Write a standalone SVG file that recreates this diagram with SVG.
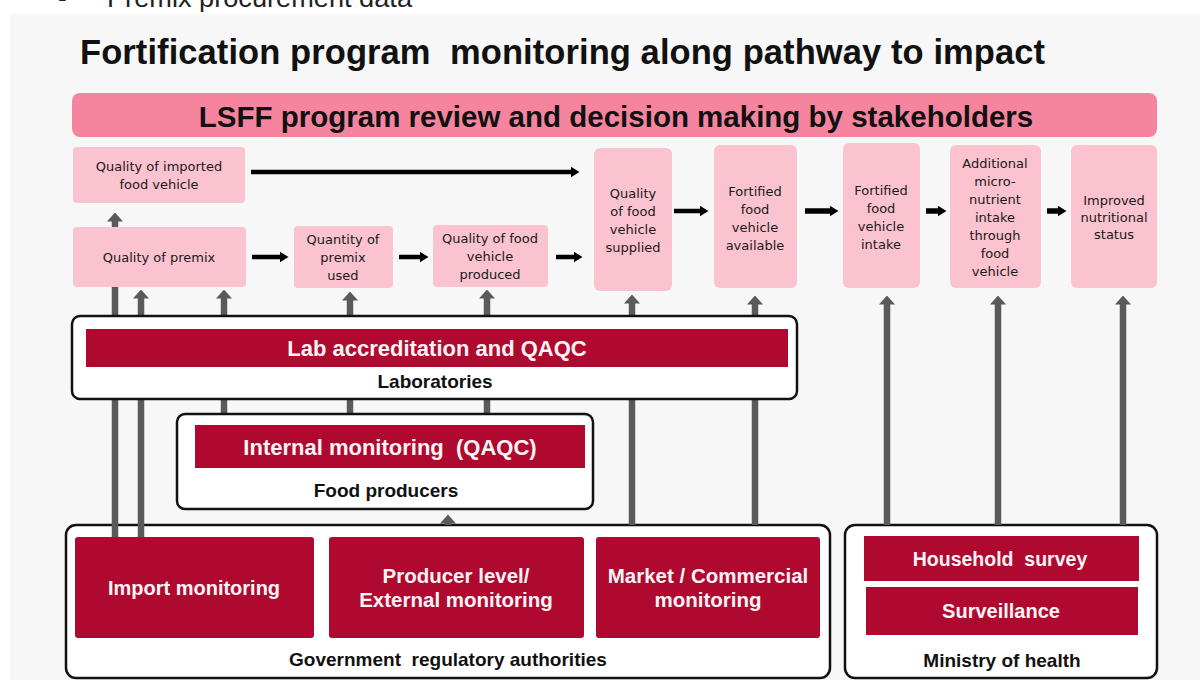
<svg xmlns="http://www.w3.org/2000/svg" width="1200" height="680" viewBox="0 0 1200 680">
<defs>
<style>
.pink{fill:#fbc2d0}
.nt{font-family:"DejaVu Sans","Liberation Sans",sans-serif;font-size:13px;fill:#1a1a1a;text-anchor:middle}
.red{fill:#b0092f}
.wt{font-family:"Liberation Sans",Arial,sans-serif;font-weight:bold;fill:#fff4f6;text-anchor:middle}
.cont{fill:#ffffff;stroke:#111;stroke-width:2.5}
.bt{font-family:"Liberation Sans",Arial,sans-serif;font-weight:bold;fill:#111;text-anchor:middle;font-size:19px}
.blk{stroke:#000;stroke-width:4.5;fill:none}
.gry{stroke:#5a5a5a;stroke-width:6.5;fill:none}
</style>
<marker id="ab" markerUnits="userSpaceOnUse" viewBox="0 0 9 11" markerWidth="9" markerHeight="11" refX="0.5" refY="5.5" orient="auto">
<path d="M0,0 L9,5.5 L0,11 Z" fill="#000"/>
</marker>
<marker id="ag" markerUnits="userSpaceOnUse" viewBox="0 0 9 16" markerWidth="9" markerHeight="16" refX="0.5" refY="8" orient="auto">
<path d="M0,0 L9,8 L0,16 Z" fill="#5a5a5a"/>
</marker>
</defs>
<rect x="0" y="0" width="1200" height="680" fill="#ffffff"/>
<rect x="10" y="14" width="1190" height="666" fill="#f7f7f7"/>
<text x="58" y="7" font-family="Liberation Sans,Arial,sans-serif" font-size="26" fill="#222">-</text>
<text x="107" y="7" font-family="Liberation Sans,Arial,sans-serif" font-size="26" fill="#222" textLength="305" lengthAdjust="spacingAndGlyphs">Premix procurement data</text>
<text x="80" y="64" xml:space="preserve" font-family="Liberation Sans,Arial,sans-serif" font-weight="bold" font-size="34.5" fill="#111" textLength="965" lengthAdjust="spacing">Fortification program  monitoring along pathway to impact</text>

<g id="banner">
<rect x="72" y="93" width="1085" height="44" rx="8" fill="#f7849f"/>
<text x="616" y="127" font-family="Liberation Sans,Arial,sans-serif" font-weight="bold" font-size="29.5" fill="#111" text-anchor="middle">LSFF program review and decision making by stakeholders</text>
</g>

<g id="gov-box"><rect class="cont" x="66" y="525" width="764" height="153" rx="10"/></g>
<g id="moh-box"><rect class="cont" x="845" y="525" width="312" height="153" rx="10"/></g>

<g id="connectors">
<line class="gry" x1="115" y1="537" x2="115" y2="221" marker-end="url(#ag)"/>
<line class="gry" x1="141" y1="537" x2="141" y2="298" marker-end="url(#ag)"/>
<line class="gry" x1="224" y1="414" x2="224" y2="298" marker-end="url(#ag)"/>
<line class="gry" x1="350" y1="414" x2="350" y2="300" marker-end="url(#ag)"/>
<line class="gry" x1="487" y1="414" x2="487" y2="298" marker-end="url(#ag)"/>
<line class="gry" x1="632" y1="525" x2="632" y2="303" marker-end="url(#ag)"/>
<line class="gry" x1="755" y1="525" x2="755" y2="304" marker-end="url(#ag)"/>
<line class="gry" x1="448" y1="525" x2="448" y2="523" marker-end="url(#ag)"/>
<line class="gry" x1="887" y1="525" x2="887" y2="304" marker-end="url(#ag)"/>
<line class="gry" x1="998" y1="525" x2="998" y2="304" marker-end="url(#ag)"/>
<line class="gry" x1="1123" y1="525" x2="1123" y2="304" marker-end="url(#ag)"/>
<line class="blk" x1="251" y1="172" x2="571" y2="172" marker-end="url(#ab)"/>
<line class="blk" x1="252" y1="257" x2="280" y2="257" marker-end="url(#ab)"/>
<line class="blk" x1="399" y1="257" x2="420" y2="257" marker-end="url(#ab)"/>
<line class="blk" x1="556" y1="257" x2="574" y2="257" marker-end="url(#ab)"/>
<line class="blk" x1="674" y1="211" x2="700" y2="211" marker-end="url(#ab)"/>
<line class="blk" x1="805" y1="211" x2="830" y2="211" style="stroke-width:5.5" marker-end="url(#ab)"/>
<line class="blk" x1="926" y1="211" x2="938" y2="211" style="stroke-width:5.5" marker-end="url(#ab)"/>
<line class="blk" x1="1047" y1="211" x2="1058" y2="211" style="stroke-width:5.5" marker-end="url(#ab)"/>
</g>

<g id="n-imported">
<rect class="pink" x="73" y="147" width="172" height="56" rx="4"/>
<text class="nt" x="159" y="171">Quality of imported</text>
<text class="nt" x="159" y="189">food vehicle</text>
</g>
<g id="n-premix">
<rect class="pink" x="73" y="227" width="173" height="60" rx="4"/>
<text class="nt" x="159" y="262">Quality of premix</text>
</g>
<g id="n-quantity">
<rect class="pink" x="294" y="226" width="99" height="62" rx="4"/>
<text class="nt" x="343" y="244">Quantity of</text>
<text class="nt" x="343" y="262">premix</text>
<text class="nt" x="343" y="280">used</text>
</g>
<g id="n-produced">
<rect class="pink" x="433" y="225" width="115" height="62" rx="4"/>
<text class="nt" x="490" y="243">Quality of food</text>
<text class="nt" x="490" y="261">vehicle</text>
<text class="nt" x="490" y="279">produced</text>
</g>
<g id="n-supplied">
<rect class="pink" x="594" y="148" width="78" height="143" rx="6"/>
<text class="nt" x="633" y="198">Quality</text>
<text class="nt" x="633" y="216">of food</text>
<text class="nt" x="633" y="234">vehicle</text>
<text class="nt" x="633" y="252">supplied</text>
</g>
<g id="n-available">
<rect class="pink" x="714" y="145" width="83" height="143" rx="6"/>
<text class="nt" x="755" y="196">Fortified</text>
<text class="nt" x="755" y="214">food</text>
<text class="nt" x="755" y="232">vehicle</text>
<text class="nt" x="755" y="250">available</text>
</g>
<g id="n-intake">
<rect class="pink" x="843" y="143" width="77" height="145" rx="6"/>
<text class="nt" x="881" y="195">Fortified</text>
<text class="nt" x="881" y="213">food</text>
<text class="nt" x="881" y="231">vehicle</text>
<text class="nt" x="881" y="249">intake</text>
</g>
<g id="n-additional">
<rect class="pink" x="950" y="145" width="91" height="143" rx="6"/>
<text class="nt" x="995" y="168">Additional</text>
<text class="nt" x="995" y="186">micro-</text>
<text class="nt" x="995" y="204">nutrient</text>
<text class="nt" x="995" y="222">intake</text>
<text class="nt" x="995" y="240">through</text>
<text class="nt" x="995" y="258">food</text>
<text class="nt" x="995" y="276">vehicle</text>
</g>
<g id="n-improved">
<rect class="pink" x="1071" y="145" width="86" height="143" rx="6"/>
<text class="nt" x="1114" y="205">Improved</text>
<text class="nt" x="1114" y="222">nutritional</text>
<text class="nt" x="1114" y="239">status</text>
</g>

<g id="laboratories">
<rect class="cont" x="72" y="316" width="725" height="83" rx="8"/>
<rect class="red" x="86" y="329" width="702" height="38"/>
<text class="wt" x="437" y="356" font-size="22">Lab accreditation and QAQC</text>
<text class="bt" x="435" y="388">Laboratories</text>
</g>
<g id="food-producers">
<rect class="cont" x="177" y="414" width="416" height="95" rx="8"/>
<rect class="red" x="195" y="425" width="390" height="43"/>
<text class="wt" x="390" y="455" font-size="22" xml:space="preserve">Internal monitoring  (QAQC)</text>
<text class="bt" x="386" y="497">Food producers</text>
</g>
<g id="government">
<rect class="red" x="75" y="537" width="239" height="101" rx="3"/>
<text class="wt" x="194" y="595" font-size="20">Import monitoring</text>
<rect class="red" x="329" y="537" width="255" height="101" rx="3"/>
<text class="wt" x="456" y="583" font-size="20.5">Producer level/</text>
<text class="wt" x="456" y="607" font-size="20.5">External monitoring</text>
<rect class="red" x="596" y="537" width="224" height="101" rx="3"/>
<text class="wt" x="708" y="583" font-size="20.5">Market / Commercial</text>
<text class="wt" x="708" y="607" font-size="20.5">monitoring</text>
<text class="bt" x="448" y="666" font-size="19.5" xml:space="preserve">Government  regulatory authorities</text>
</g>
<g id="ministry">
<rect class="red" x="864" y="536" width="275" height="45"/>
<text class="wt" x="1000" y="566" font-size="19.5" xml:space="preserve">Household  survey</text>
<rect class="red" x="866" y="587" width="272" height="48"/>
<text class="wt" x="1001" y="618" font-size="20">Surveillance</text>
<text class="bt" x="1002" y="667" font-size="19.5">Ministry of health</text>
</g>
</svg>
